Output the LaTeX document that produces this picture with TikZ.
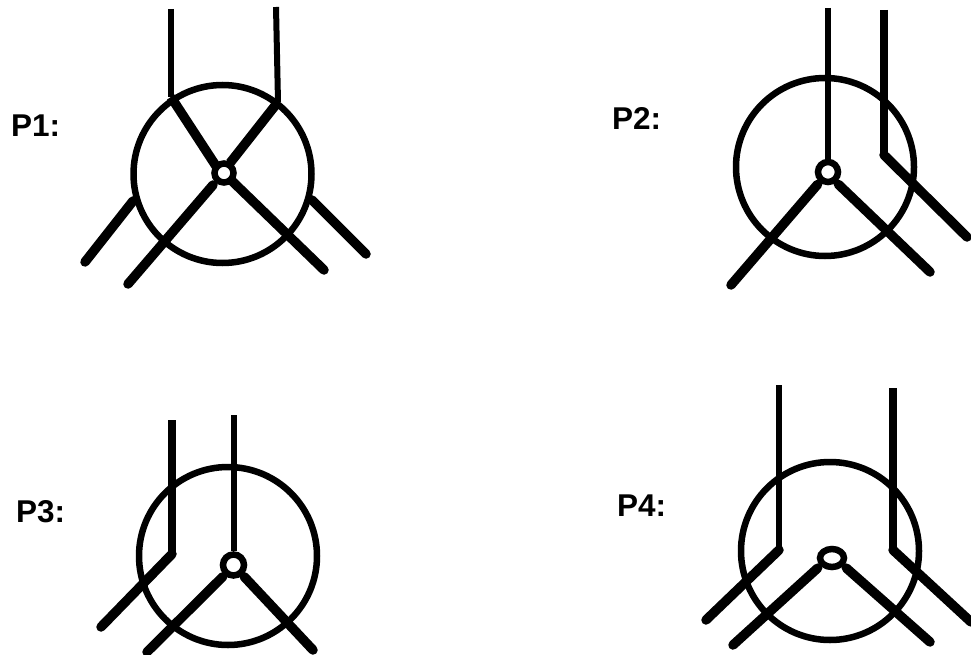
\documentclass[tikz,border=0pt]{standalone}
\usepackage{fontspec}
\setmainfont{Liberation Sans}
\usetikzlibrary{shapes.geometric}
\tikzset{
  thinbond/.style={line width=6pt,line cap=butt,line join=miter},
  midbond/.style={line width=7.5pt,line cap=butt},
  wedgebond/.style={line width=9.5pt,line cap=round,line join=miter},
  outer/.style={circle,draw,line width=6.5pt,inner sep=0pt,minimum size=#1},
  hub/.style={circle,draw,line width=6.5pt,fill=white,inner sep=0pt,minimum size=#1},
  hubflat/.style={ellipse,draw,line width=6.5pt,fill=white,inner sep=0pt,minimum width=24pt,minimum height=18pt},
  plabel/.style={anchor=base west,inner sep=0pt,font=\fontsize{31.5}{33}\selectfont\bfseries}
}
\begin{document}
\begin{tikzpicture}[x=1pt,y=-1pt]
\useasboundingbox (0,0) rectangle (971,655);
% P1
\node[plabel] (l1) at (11,137) {P1:};
\node[outer=178pt] (c1) at (222.5,174) {};
\coordinate (a1) at (171,97);
\coordinate (b1) at (278,102);
\draw[thinbond] (171,9) -- (a1);
\draw[thinbond] (276,7) -- (b1);
\draw[wedgebond,line cap=butt] (a1) -- (216,166);
\draw[wedgebond,line cap=butt] (b1) -- (230,163);
\draw[wedgebond] (213,185) -- (128,284);
\draw[wedgebond] (232,181) -- (324,270);
\draw[wedgebond] (133,201) -- (85,262);
\draw[wedgebond] (312,200) -- (366,254);
\node[hub=19pt] (h1) at (224,173) {};
% P2
\node[plabel] (l2) at (612,130) {P2:};
\node[outer=178pt] (c2) at (825,167) {};
\coordinate (a2) at (884,155);
\node[hub=20pt] (h2) at (828,172) {};
\draw[thinbond] (828,8) -- (h2.north);
\draw[midbond] (884,10) -- (a2);
\draw[wedgebond] (h2.south west) ++(-1,3) -- (731,285);
\draw[wedgebond] (h2.south east) ++(1,3) -- (930,272);
\draw[wedgebond] (a2) -- (967,237);
% P3
\node[plabel] (l3) at (16,522) {P3:};
\node[outer=178pt] (c3) at (228,556) {};
\coordinate (a3) at (172,554);
\node[hub=21pt] (h3) at (233.5,565) {};
\draw[thinbond] (233.5,415) -- (h3.north);
\draw[midbond] (172,420) -- (a3);
\draw[wedgebond] (a3) -- (101,627);
\draw[wedgebond] (h3.south west) ++(-1,2) -- (147,652);
\draw[wedgebond] (h3.south east) ++(1,2) -- (313,650);
% P4
\node[plabel] (l4) at (617,516) {P4:};
\node[outer=178pt] (c4) at (830,551) {};
\coordinate (a4) at (779,550);
\coordinate (b4) at (893,550);
\node[hubflat] (h4) at (832,558) {};
\draw[thinbond] (779,385) -- (a4);
\draw[midbond] (893,388) -- (b4);
\draw[wedgebond] (a4) -- (706,620);
\draw[wedgebond] (b4) -- (971,622);
\draw[wedgebond] (h4.210) ++(-2,3) -- (733,645);
\draw[wedgebond] (h4.330) ++(2,3) -- (930,642);
\end{tikzpicture}
\end{document}
